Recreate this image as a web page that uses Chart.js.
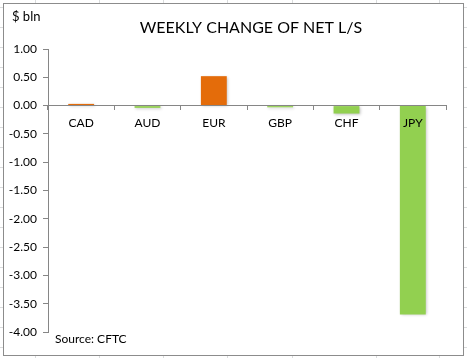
<!DOCTYPE html>
<html>
<head>
<meta charset="utf-8">
<script src="https://cdn.jsdelivr.net/npm/chart.js@4.4.1/dist/chart.umd.min.js"></script>
<style>
  html, body { margin: 0; padding: 0; background: #ffffff; }
  #wrap { width: 467px; height: 358px; position: relative; }
</style>
</head>
<body>
<div id="wrap"><canvas id="c" width="467" height="358"></canvas></div>
<script>
const categories = ["CAD", "AUD", "EUR", "GBP", "CHF", "JPY"];
const weeklyChange = [0.03, -0.04, 0.52, -0.03, -0.14, -3.69];
const yTickValues = [1.0, 0.5, 0.0, -0.5, -1.0, -1.5, -2.0, -2.5, -3.0, -3.5, -4.0];
const chartTitle = "WEEKLY CHANGE OF NET L/S";
const unitLabel = "$ bln";
const sourceLabel = "Source: CFTC";

const FONT = "Lato, 'Open Sans', sans-serif";
const ORANGE = "#E46C0A";
const GREEN = "#92D050";

const frame = {
  id: "frame",
  beforeDraw(chart) {
    const ctx = chart.ctx;
    ctx.save();
    ctx.fillStyle = "#ffffff";
    ctx.fillRect(0, 0, chart.width, chart.height);
    ctx.strokeStyle = "#dadcdd";
    ctx.lineWidth = 1;
    [35, 99, 163, 227, 292, 376, 439].forEach(x => {
      ctx.beginPath(); ctx.moveTo(x + 0.5, 0); ctx.lineTo(x + 0.5, chart.height); ctx.stroke();
    });
    for (let y = 7; y < chart.height; y += 20) {
      ctx.beginPath(); ctx.moveTo(0, y + 0.5); ctx.lineTo(chart.width, y + 0.5); ctx.stroke();
    }
    ctx.fillStyle = "#ffffff";
    ctx.fillRect(3, 3, 460, 352);
    ctx.strokeStyle = "#8c8c8c";
    ctx.strokeRect(3.5, 3.5, 460, 352);
    ctx.restore();
  },
  afterDraw(chart) {
    const ctx = chart.ctx;
    ctx.save();
    ctx.fillStyle = "#000000";
    ctx.textBaseline = "middle";
    ctx.textAlign = "center";
    ctx.font = "16px " + FONT;
    ctx.fillText(chartTitle, 251, 28);
    ctx.textAlign = "left";
    ctx.font = "13px " + FONT;
    ctx.fillText(unitLabel, 12, 17);
    ctx.font = "12px " + FONT;
    ctx.fillText(sourceLabel, 55, 339);
    ctx.restore();
  }
};

const barShadow = {
  id: "barShadow",
  beforeDatasetsDraw(chart) {
    const ctx = chart.ctx;
    ctx.save();
    ctx.shadowColor = "rgba(0,0,0,0.25)";
    ctx.shadowBlur = 3;
    ctx.shadowOffsetX = 1;
    ctx.shadowOffsetY = 1;
  },
  afterDatasetsDraw(chart) {
    chart.ctx.restore();
  }
};

new Chart(document.getElementById("c"), {
  type: "bar",
  data: {
    labels: categories,
    datasets: [{
      data: weeklyChange,
      backgroundColor: weeklyChange.map(v => v >= 0 ? ORANGE : GREEN),
      borderWidth: 0,
      categoryPercentage: 1.0,
      barPercentage: 0.39
    }]
  },
  options: {
    responsive: false,
    animation: false,
    devicePixelRatio: 1,
    layout: { padding: { left: 0, right: 21, top: 49, bottom: 26 } },
    plugins: {
      legend: { display: false },
      title: { display: false },
      tooltip: { enabled: false }
    },
    scales: {
      x: {
        position: { y: 0 },
        offset: true,
        grid: {
          display: true,
          drawOnChartArea: false,
          drawTicks: true,
          tickLength: 4,
          color: "#868686",
          offset: true,
          z: 1
        },
        border: { display: true, color: "#868686", width: 1, z: 1 },
        ticks: {
          font: { family: FONT, size: 12 },
          color: "#000000",
          padding: 6,
          maxRotation: 0,
          autoSkip: false,
          z: 2
        }
      },
      y: {
        min: -4,
        max: 1,
        afterFit(scale) { scale.width = 48; },
        afterBuildTicks(scale) { scale.ticks = yTickValues.map(v => ({ value: v })); },
        grid: {
          display: true,
          drawOnChartArea: false,
          drawTicks: true,
          tickLength: 5,
          color: "#868686"
        },
        border: { display: true, color: "#868686", width: 1 },
        ticks: {
          font: { family: FONT, size: 12 },
          color: "#000000",
          padding: 6,
          callback: v => Number(v).toFixed(2)
        }
      }
    }
  },
  plugins: [frame, barShadow]
});
</script>
</body>
</html>
